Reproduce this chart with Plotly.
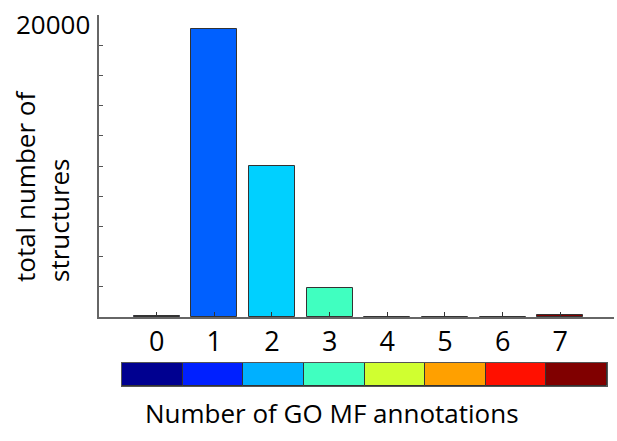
import plotly.graph_objects as go

categories = [0, 1, 2, 3, 4, 5, 6, 7]
counts = [60, 19050, 10000, 1920, 15, 10, 10, 110]
bar_colors = ["#000090", "#0060FF", "#00D0FF", "#40FFC0", "#D0FF30", "#FFA000", "#FF1000", "#800000"]
scale_colors = ["#000090", "#0020FF", "#00B0FF", "#40FFC0", "#D0FF30", "#FFA000", "#FF1000", "#800000"]
scale_heights = [1] * 8
y_ticks = list(range(0, 20001, 2000))
y_top_label = "20000"

FONT = "Open Sans"
W, H = 617, 441

fig = go.Figure()
fig.add_trace(go.Bar(
    x=categories, y=counts, width=0.8,
    marker=dict(color=bar_colors, line=dict(color="#333333", width=1)),
    xaxis="x", yaxis="y", showlegend=False, hoverinfo="x+y",
))
fig.add_trace(go.Bar(
    x=categories, y=scale_heights, width=1,
    marker=dict(color=scale_colors, line=dict(color="#333333", width=1)),
    xaxis="x2", yaxis="y2", showlegend=False, hoverinfo="skip",
))

fig.update_layout(
    width=W, height=H,
    margin=dict(l=0, r=0, t=0, b=0),
    paper_bgcolor="white", plot_bgcolor="white",
    font=dict(family=FONT, color="black", size=26),
    bargap=0,
    xaxis=dict(
        domain=[99 / W, 0.995], range=[-1, 7.93],
        tickvals=categories, ticktext=[str(c) for c in categories],
        ticks="inside", ticklen=5, tickcolor="#333", tickwidth=1,
        showline=True, linecolor="#666", linewidth=1.5,
        showgrid=False, zeroline=False, tickfont=dict(size=27),
        anchor="y", automargin=False,
    ),
    yaxis=dict(
        domain=[1 - 317 / H, 1 - 15 / H], range=[0, 20010],
        tickvals=y_ticks, showticklabels=False,
        ticks="inside", ticklen=4, tickcolor="#555", tickwidth=1,
        showline=True, linecolor="#666", linewidth=1.5,
        showgrid=False, zeroline=False,
        anchor="x", automargin=False,
    ),
    xaxis2=dict(
        domain=[122 / W, 607 / W], range=[-0.5, 7.5],
        showticklabels=False, showgrid=False, zeroline=False,
        showline=True, mirror=True, linecolor="#555", linewidth=1,
        anchor="y2", automargin=False,
    ),
    yaxis2=dict(
        domain=[1 - 386 / H, 1 - 363 / H], range=[0, 1],
        showticklabels=False, showgrid=False, zeroline=False,
        showline=True, mirror=True, linecolor="#555", linewidth=1,
        anchor="x2", automargin=False,
    ),
    annotations=[
        dict(text=y_top_label,
             x=92 / W, y=1 - 24 / H, xref="paper", yref="paper",
             xanchor="right", yanchor="middle", showarrow=False,
             font=dict(size=26, family=FONT)),
        dict(text="total number of<br>structures", textangle=-90, align="left",
             x=42 / W, y=1 - 186 / H, xref="paper", yref="paper",
             xanchor="center", yanchor="middle", showarrow=False,
             font=dict(size=26, family=FONT)),
        dict(text="Number of GO MF annotations",
             x=332 / W, y=1 - 413 / H, xref="paper", yref="paper",
             xanchor="center", yanchor="middle", showarrow=False,
             font=dict(size=26, family=FONT)),
    ],
)

fig.write_html("out.html", post_script="document.body.style.margin='0';",
               config={"displayModeBar": False})
